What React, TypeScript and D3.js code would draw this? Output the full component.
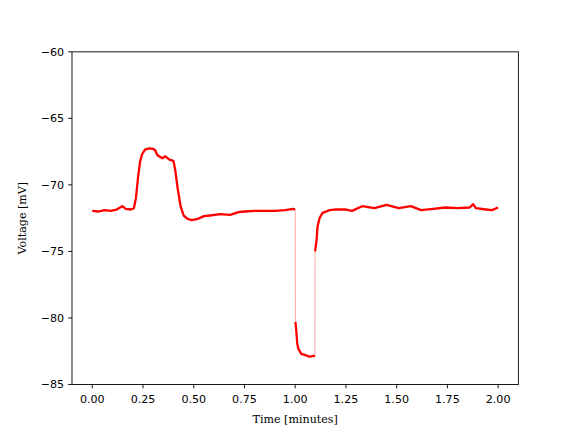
import React from "react";
import * as d3 from "d3";

// Time (minutes) and voltage (mV) samples
const timeMin: number[] = [
  0.0, 0.03, 0.06, 0.09, 0.12, 0.148, 0.165, 0.19, 0.205, 0.215, 0.225, 0.235, 0.245,
  0.26, 0.28, 0.3, 0.31, 0.32, 0.345, 0.36, 0.38, 0.4, 0.41, 0.42, 0.435, 0.45, 0.47,
  0.49, 0.52, 0.55, 0.58, 0.63, 0.68, 0.72, 0.75, 0.8, 0.85, 0.9, 0.95, 0.99, 1.0,
  1.001, 1.005, 1.01, 1.015, 1.03, 1.05, 1.07, 1.09, 1.097,
  1.098, 1.105, 1.11, 1.12, 1.135, 1.17, 1.2, 1.25, 1.28, 1.33, 1.39, 1.45, 1.51,
  1.57, 1.62, 1.68, 1.74, 1.8, 1.86, 1.877, 1.89, 1.94, 1.97, 2.0,
];
const voltage: number[] = [
  -71.95, -72.0, -71.9, -71.95, -71.85, -71.6, -71.8, -71.85, -71.75, -71.0, -69.5, -68.3, -67.7,
  -67.35, -67.25, -67.3, -67.4, -67.75, -68.0, -67.85, -68.1, -68.2, -69.0, -70.2, -71.6, -72.3, -72.55,
  -72.65, -72.55, -72.35, -72.3, -72.2, -72.25, -72.05, -72.0, -71.95, -71.95, -71.95, -71.9, -71.8, -71.85,
  -80.3, -80.9, -81.9, -82.3, -82.7, -82.8, -82.9, -82.85, -82.9,
  -75.0, -74.2, -73.15, -72.5, -72.1, -71.9, -71.85, -71.85, -71.95, -71.6, -71.75, -71.5, -71.75,
  -71.6, -71.9, -71.8, -71.7, -71.75, -71.7, -71.45, -71.75, -71.85, -71.9, -71.7,
];
const xTicks: number[] = [0, 0.25, 0.5, 0.75, 1.0, 1.25, 1.5, 1.75, 2.0];
const yTicks: number[] = [-60, -65, -70, -75, -80, -85];

const W = 576, H = 432;
const L = 72, R = 518.4, T = 51.84, B = 384.48;
const FS = 11.1;
const TICK = 3.9;

export default function App() {
  const x = d3.scaleLinear().domain([-0.1, 2.1]).range([L, R]);
  const y = d3.scaleLinear().domain([-85, -60]).range([B, T]);
  const pts = timeMin.map((t, i) => [t, voltage[i]] as [number, number]);
  // split the trace where it jumps abruptly (steep steps drawn thin)
  const pieces: [number, number][][] = [];
  const jumps: [number, number][][] = [];
  let cur: [number, number][] = [pts[0]];
  for (let i = 1; i < pts.length; i++) {
    const dt = pts[i][0] - pts[i - 1][0];
    const dv = Math.abs(pts[i][1] - pts[i - 1][1]);
    if (dt < 0.003 && dv > 3) {
      pieces.push(cur);
      jumps.push([pts[i - 1], pts[i]]);
      cur = [pts[i]];
    } else cur.push(pts[i]);
  }
  pieces.push(cur);
  const line = d3.line<[number, number]>().x((d) => x(d[0])).y((d) => y(d[1]));
  const fmtY = (v: number) => (v < 0 ? "\u2212" + Math.abs(v) : String(v));
  return (
    <svg width={W} height={H} style={{ position: "absolute", left: 0, top: 0, background: "#fff" }}>
      <rect x={0} y={0} width={W} height={H} fill="#fff" />
      <clipPath id="clip">
        <rect x={L} y={T} width={R - L} height={B - T} />
      </clipPath>
      <g clipPath="url(#clip)">
        {jumps.map((p, i) => (
          <path key={"j" + i} d={line(p) || ""} fill="none" stroke="#ff0000" strokeOpacity={0.4} strokeWidth={0.9} />
        ))}
        {pieces.map((p, i) => (
          <path key={"p" + i} d={line(p) || ""} fill="none" stroke="#ff0000" strokeWidth={2.3} strokeLinejoin="round" />
        ))}
      </g>
      <rect x={L} y={T} width={R - L} height={B - T} fill="none" stroke="#000" strokeWidth={0.9} />
      {xTicks.map((t) => (
        <g key={"x" + t}>
          <line x1={x(t)} x2={x(t)} y1={B} y2={B + TICK} stroke="#000" strokeWidth={0.9} />
          <text x={x(t)} y={402.5} textAnchor="middle" fontFamily="DejaVu Sans" fontSize={FS} fill="#000">
            {t.toFixed(2)}
          </text>
        </g>
      ))}
      {yTicks.map((v) => (
        <g key={"y" + v}>
          <line x1={L - TICK} x2={L} y1={y(v)} y2={y(v)} stroke="#000" strokeWidth={0.9} />
          <text x={L - 7.8} y={y(v) + 4} textAnchor="end" fontFamily="DejaVu Sans" fontSize={FS} fill="#000">
            {fmtY(v)}
          </text>
        </g>
      ))}
      <text x={(L + R) / 2} y={423} textAnchor="middle" fontFamily="DejaVu Serif" fontSize={FS} fill="#000">
        Time [minutes]
      </text>
      <text
        transform={`translate(25.5,${(T + B) / 2}) rotate(-90)`}
        textAnchor="middle"
        fontFamily="DejaVu Serif"
        fontSize={FS}
        fill="#000"
      >
        Voltage [mV]
      </text>
    </svg>
  );
}
